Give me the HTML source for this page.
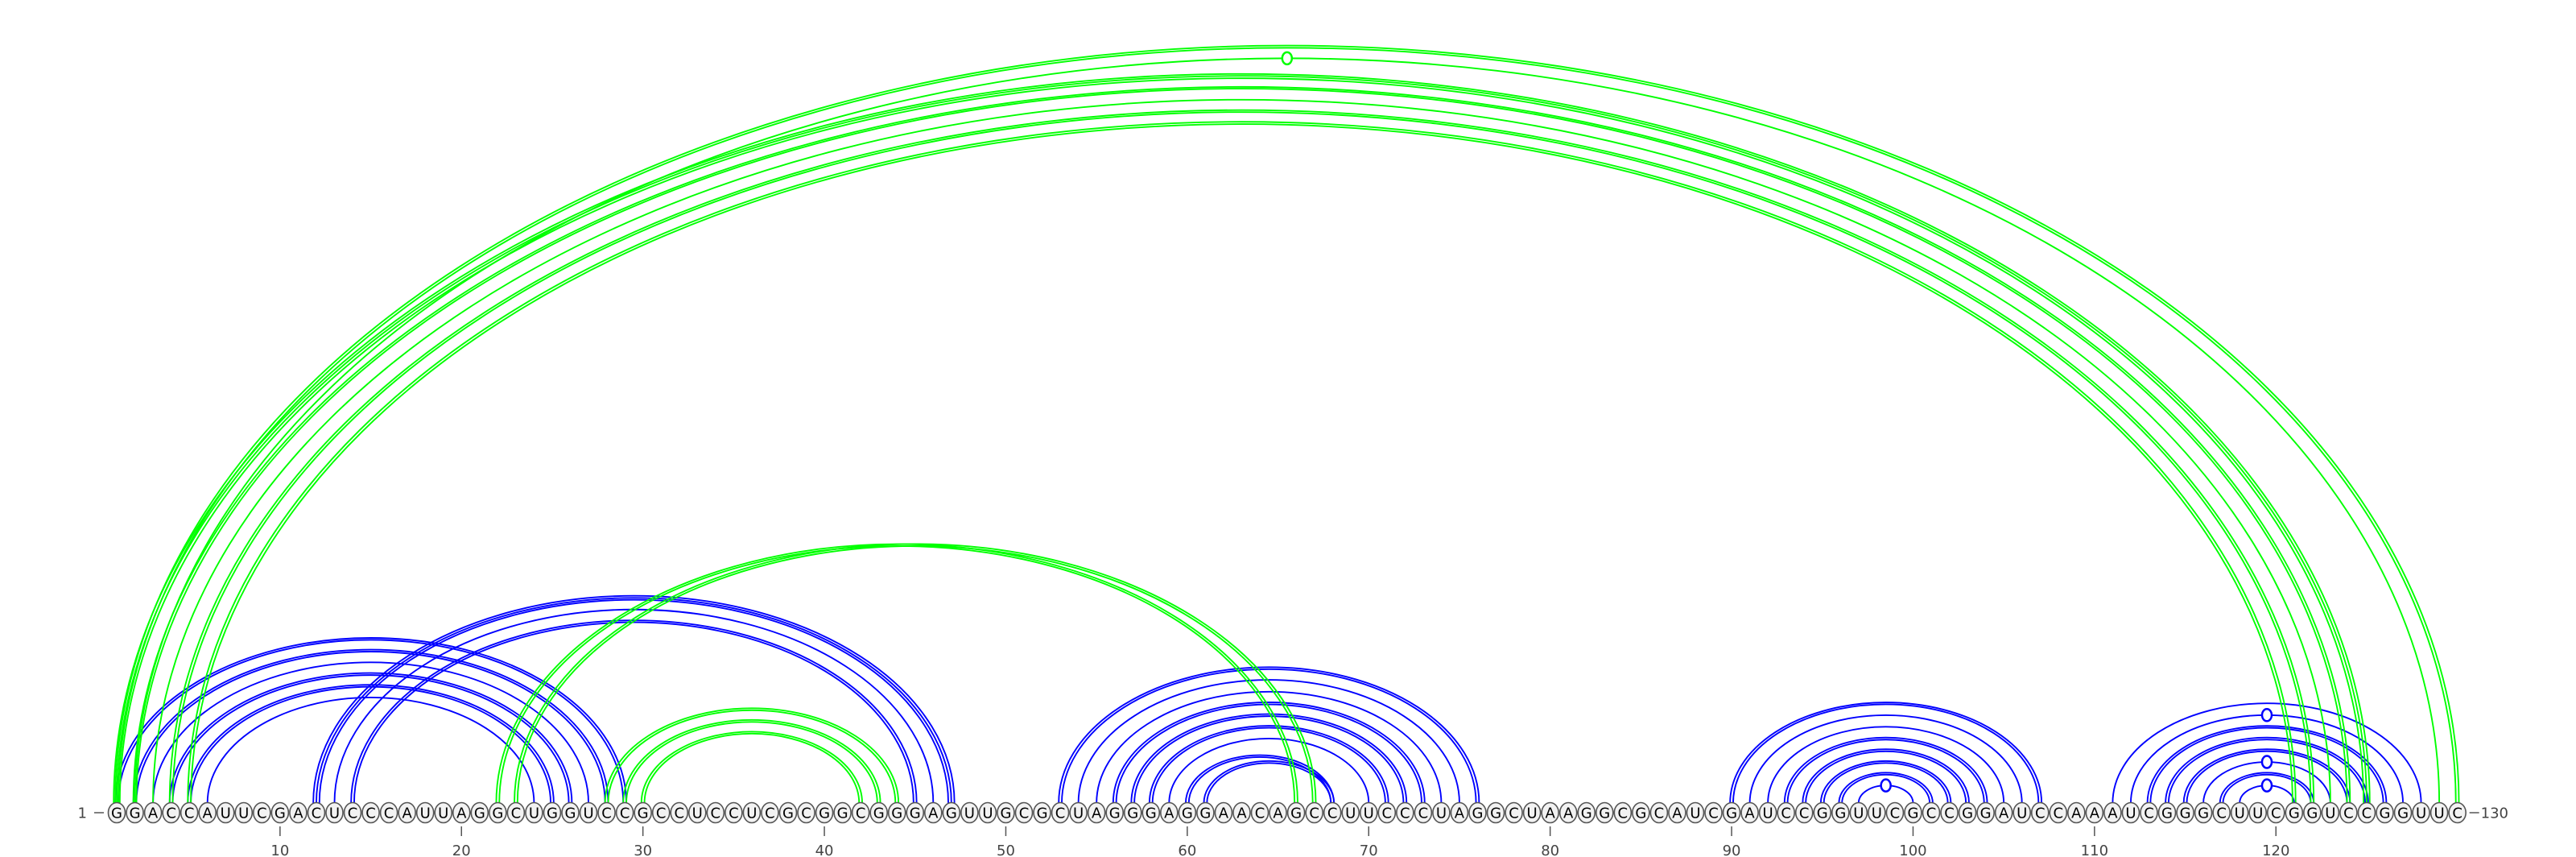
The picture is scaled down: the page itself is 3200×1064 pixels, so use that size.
<!DOCTYPE html>
<html><head><meta charset="utf-8"><style>
html,body{margin:0;padding:0;background:#fff;}
svg{display:block;}
</style></head><body>
<svg id="chart" width="3200" height="1064" viewBox="0 0 3200 1064" xmlns="http://www.w3.org/2000/svg">
<g id="arcs"></g>
<g id="bases"></g>
<g id="axis"></g>
</svg>
<script>
const sequence = "GGACCAUUCGACUCCCAUUAGGCUGGUCCGCCUCCUCGCGGCGGGAGUUGCGCUAGGGAGGAACAGCCUUCCCUAGGCUAAGGCGCAUCGAUCCGGUUCGCCGGAUCCAAAUCGGGCUUCGGUCCGGUUC";
const bluePairs5 = [[1,29],[2,28],[3,27],[4,26],[5,25],[6,24],[12,47],[13,46],[14,45],[53,76],[54,75],[55,74],[56,73],[57,72],[58,71],[59,70],[60,68],[61,68],[90,107],[91,106],[92,105],[93,104],[94,103],[95,102],[96,101],[97,100],[111,128],[112,127],[113,126],[114,125],[115,124],[116,123],[117,122],[118,121]];
const blueCounts = [2,2,1,2,2,1,3,1,2,2,1,1,2,2,2,1,2,2,2,1,1,2,2,2,2,1,1,1,2,2,2,1,2,1];
const blueMarked = [[97,100],[112,127],[116,123],[118,121]];
const greenPairs = [[1,130],[2,129],[1,125],[2,124],[3,123],[4,122],[5,121],[22,66],[23,67],[28,44],[29,43],[30,42]];
const greenCounts = [2,1,3,2,1,2,2,2,2,2,2,2];
const greenMarked = [[2,129]];
const tickPositions = [10,20,30,40,50,60,70,80,90,100,110,120];

const NS = "http://www.w3.org/2000/svg";
const X0 = 145, STEP = 22.54, BASE_Y = 1009, ARC_Y = 997, RATIO = 0.646;
function xPos(i){ return X0 + (i-1)*STEP; }
function mk(tag, attrs, parent){ const e=document.createElementNS(NS,tag); for(const k in attrs) e.setAttribute(k,attrs[k]); parent.appendChild(e); return e; }

const arcsG = document.getElementById('arcs');
function drawArcs(pairs, counts, marked, color, name){
  pairs.forEach((p,idx)=>{
    const n = counts[idx];
    const x1 = xPos(p[0]), x2 = xPos(p[1]);
    for(let k=0;k<n;k++){
      const d = (k-(n-1)/2)*3.8;
      const a = x1 - d, b = x2 + d;
      const rx = (b-a)/2, ry = rx*RATIO;
      const path = mk('path',{d:`M${a},${ARC_Y} A${rx},${ry} 0 0 1 ${b},${ARC_Y}`,fill:'none',stroke:color,'stroke-width':1.9},arcsG);
      
      
    }
    if(marked.some(m=>m[0]===p[0]&&m[1]===p[1])){
      const rx=(x2-x1)/2;
      const c = mk('ellipse',{cx:(x1+x2)/2,cy:ARC_Y-rx*RATIO,rx:6,ry:7.5,fill:'#fff',stroke:color,'stroke-width':2.5},arcsG);
      
      
    }
  });
}
drawArcs(bluePairs5, blueCounts, blueMarked, '#0000ff', 'blue');
drawArcs(greenPairs, greenCounts, greenMarked, '#00ff00', 'green');

const basesG = document.getElementById('bases');
for(let i=1;i<=sequence.length;i++){
  const x = xPos(i);
  const e = mk('ellipse',{cx:x,cy:BASE_Y,rx:10.5,ry:12.5,fill:'#f2f2f2',stroke:'#555','stroke-width':1.6},basesG);
  
  
  const t = mk('text',{x:x,y:BASE_Y+6.5,'text-anchor':'middle','font-family':'"DejaVu Sans","Liberation Sans",sans-serif','font-size':18,fill:'#000'},basesG);
  t.textContent = sequence[i-1];
  
  
}

const axisG = document.getElementById('axis');
tickPositions.forEach(p=>{
  const x = xPos(p);
  const l = mk('line',{x1:x,x2:x,y1:1026,y2:1038,stroke:'#555','stroke-width':1.5},axisG);
  
  
  const t = mk('text',{x:x,y:1062,'text-anchor':'middle','font-family':'"DejaVu Sans","Liberation Sans",sans-serif','font-size':18,fill:'#444'},axisG);
  t.textContent = p;
  
  
});
const sLab = mk('text',{x:108,y:1015.5,'text-anchor':'end','font-family':'"DejaVu Sans","Liberation Sans",sans-serif','font-size':18,fill:'#444'},axisG);
sLab.textContent = '1';


const sL = mk('line',{x1:117,x2:129,y1:BASE_Y,y2:BASE_Y,stroke:'#555','stroke-width':1.5},axisG);


const eL = mk('line',{x1:xPos(130)+15,x2:xPos(130)+27,y1:BASE_Y,y2:BASE_Y,stroke:'#555','stroke-width':1.5},axisG);


const eLab = mk('text',{x:xPos(130)+29,y:1015.5,'font-family':'"DejaVu Sans","Liberation Sans",sans-serif','font-size':18,fill:'#444'},axisG);
eLab.textContent = '130';


</script>
</body></html>
